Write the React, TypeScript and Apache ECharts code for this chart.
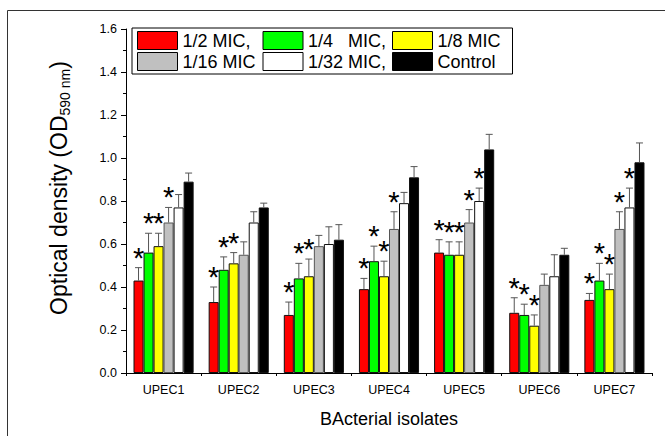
import React, { useEffect, useRef } from 'react';
import * as echarts from 'echarts';

const categories = ['UPEC1', 'UPEC2', 'UPEC3', 'UPEC4', 'UPEC5', 'UPEC6', 'UPEC7'];
const seriesNames = ['1/2 MIC,', '1/4   MIC,', '1/8 MIC', '1/16 MIC', '1/32 MIC,', 'Control'];
const seriesColors = ['#FF0000', '#00FF00', '#FFFF00', '#C0C0C0', '#FFFFFF', '#000000'];

const halfMic = [0.43, 0.33, 0.27, 0.39, 0.56, 0.28, 0.34];
const quarterMic = [0.56, 0.48, 0.44, 0.52, 0.55, 0.27, 0.43];
const eighthMic = [0.59, 0.51, 0.45, 0.45, 0.55, 0.22, 0.39];
const sixteenthMic = [0.70, 0.55, 0.59, 0.67, 0.70, 0.41, 0.67];
const thirtySecondMic = [0.77, 0.70, 0.60, 0.79, 0.80, 0.45, 0.77];
const control = [0.89, 0.77, 0.62, 0.91, 1.04, 0.55, 0.98];

const halfMicErr = [0.06, 0.07, 0.06, 0.05, 0.06, 0.07, 0.03];
const quarterMicErr = [0.09, 0.06, 0.07, 0.07, 0.06, 0.05, 0.08];
const eighthMicErr = [0.06, 0.05, 0.08, 0.07, 0.06, 0.05, 0.07];
const sixteenthMicErr = [0.07, 0.06, 0.05, 0.08, 0.06, 0.05, 0.08];
const thirtySecondMicErr = [0.06, 0.05, 0.08, 0.05, 0.06, 0.10, 0.09];
const controlErr = [0.04, 0.02, 0.07, 0.05, 0.07, 0.03, 0.09];

const halfMicStar = [1, 1, 1, 1, 1, 1, 1];
const quarterMicStar = [1, 1, 1, 1, 1, 1, 1];
const eighthMicStar = [1, 1, 1, 1, 1, 1, 1];
const sixteenthMicStar = [1, 0, 0, 1, 1, 0, 1];
const thirtySecondMicStar = [0, 0, 0, 0, 1, 0, 1];
const controlStar = [0, 0, 0, 0, 0, 0, 0];

const yTicks = { min: 0, max: 1.6, interval: 0.2 };

const allValues = [halfMic, quarterMic, eighthMic, sixteenthMic, thirtySecondMic, control];
const allErrs = [halfMicErr, quarterMicErr, eighthMicErr, sixteenthMicErr, thirtySecondMicErr, controlErr];
const allStars = [halfMicStar, quarterMicStar, eighthMicStar, sixteenthMicStar, thirtySecondMicStar, controlStar];

const FONT = '"Liberation Sans", Arial, Helvetica, sans-serif';
const GAP = 0.2;

export default function App() {
  const ref = useRef<HTMLDivElement>(null);
  useEffect(() => {
    document.body.style.margin = '0';
    const chart = echarts.init(ref.current!, undefined, { renderer: 'svg' });

    const errData: number[][] = [];
    allValues.forEach((vals, s) => {
      vals.forEach((v, c) => {
        errData.push([c, v + allErrs[s][c], s, v, allStars[s][c]]);
      });
    });

    const barSeries = allValues.map((vals, s) => ({
      type: 'bar',
      name: seriesNames[s],
      data: vals,
      barGap: '0%',
      barCategoryGap: GAP * 100 + '%',
      itemStyle: {
        color: seriesColors[s],
        borderColor: s === 3 ? '#555' : '#111',
        borderWidth: 1,
      },
      z: 2,
    }));

    const option: any = {
      animation: false,
      textStyle: { fontFamily: FONT },
      graphic: [
        {
          type: 'rect',
          silent: true,
          z: -1,
          shape: { x: 7.5, y: 10.5, width: 800, height: 600 },
          style: { fill: 'none', stroke: '#333', lineWidth: 1 },
        },
      ],
      legend: {
        data: seriesNames,
        left: 132,
        top: 28,
        width: 410,
        orient: 'horizontal',
        padding: [3, 5, 3, 5],
        itemGap: 2,
        itemWidth: 40,
        itemHeight: 18,
        borderColor: '#000',
        borderWidth: 1,
        icon: 'rect',
        itemStyle: { borderColor: '#000', borderWidth: 1 },
        formatter: (name: string) => {
          const idx = seriesNames.indexOf(name);
          return '{c' + (idx % 3) + '|' + name + '}';
        },
        textStyle: {
          fontFamily: FONT,
          fontSize: 18,
          color: '#000',
          rich: {
            c0: { width: 78, fontSize: 18, lineHeight: 18, fontFamily: FONT, color: '#000' },
            c1: { width: 82, fontSize: 18, lineHeight: 18, fontFamily: FONT, color: '#000' },
            c2: { width: 70, fontSize: 18, lineHeight: 18, fontFamily: FONT, color: '#000' },
          },
        },
      },
      grid: { left: 126, right: 13, top: 29, bottom: 63 },
      xAxis: [
        {
          type: 'category',
          data: categories,
          name: 'BActerial isolates',
          nameLocation: 'middle',
          nameGap: 37,
          nameTextStyle: { fontSize: 18, color: '#000', fontFamily: FONT },
          axisLine: { lineStyle: { color: '#000', width: 1 } },
          axisTick: { alignWithLabel: true, length: 5, lineStyle: { color: '#000' } },
          axisLabel: { fontSize: 12.5, color: '#000', margin: 10, fontFamily: FONT },
        },
        {
          type: 'category',
          data: categories,
          position: 'bottom',
          axisLine: { show: false },
          axisTick: { show: true, length: 3, lineStyle: { color: '#000' } },
          axisLabel: { show: false },
        },
      ],
      yAxis: {
        type: 'value',
        min: yTicks.min,
        max: yTicks.max,
        interval: yTicks.interval,
        name: '{a|Optical density (OD}{b|590 nm}{a|)}',
        nameLocation: 'middle',
        nameGap: 54,
        nameRotate: 90,
        nameTextStyle: {
          padding: [0, 0, 0, 26],
          rich: {
            a: { fontSize: 23, lineHeight: 26, color: '#000', fontFamily: FONT },
            b: { fontSize: 14, lineHeight: 16, verticalAlign: 'bottom', color: '#000', fontFamily: FONT },
          },
        },
        axisLine: { show: true, lineStyle: { color: '#000', width: 1 } },
        axisTick: { show: true, length: 5, lineStyle: { color: '#000' } },
        minorTick: { show: true, splitNumber: 2, length: 3, lineStyle: { color: '#000' } },
        splitLine: { show: false },
        axisLabel: {
          fontSize: 12.5,
          color: '#000',
          margin: 9,
          fontFamily: FONT,
          formatter: (v: number) => v.toFixed(1),
        },
      },
      series: [
        ...barSeries,
        {
          type: 'custom',
          name: 'errors',
          xAxisIndex: 0,
          z: 3,
          data: errData,
          encode: { x: 0, y: 1 },
          renderItem: (params: any, api: any) => {
            const cat = api.value(0);
            const top = api.value(1);
            const s = api.value(2);
            const v = api.value(3);
            const star = api.value(4);
            const band = api.size([1, 0])[0];
            const bw = (band * (1 - GAP)) / 6;
            const base = api.coord([cat, v]);
            const t = api.coord([cat, top]);
            const x = base[0] + (s - 2.5) * bw;
            const children: any[] = [
              {
                type: 'line',
                shape: { x1: x, y1: base[1], x2: x, y2: t[1] },
                style: { stroke: '#555', lineWidth: 1 },
              },
              {
                type: 'line',
                shape: { x1: x - 3.5, y1: t[1], x2: x + 3.5, y2: t[1] },
                style: { stroke: '#555', lineWidth: 1 },
              },
            ];
            if (star) {
              children.push({
                type: 'text',
                x: x,
                y: t[1] - 10,
                style: {
                  text: '*',
                  fontSize: 29,
                  fontFamily: FONT,
                  fill: '#000',
                  align: 'center',
                  verticalAlign: 'middle',
                },
              });
            }
            return { type: 'group', children };
          },
        },
      ],
    };

    chart.setOption(option);
    return () => chart.dispose();
  }, []);
  return <div ref={ref} style={{ width: 665, height: 436 }} />;
}
